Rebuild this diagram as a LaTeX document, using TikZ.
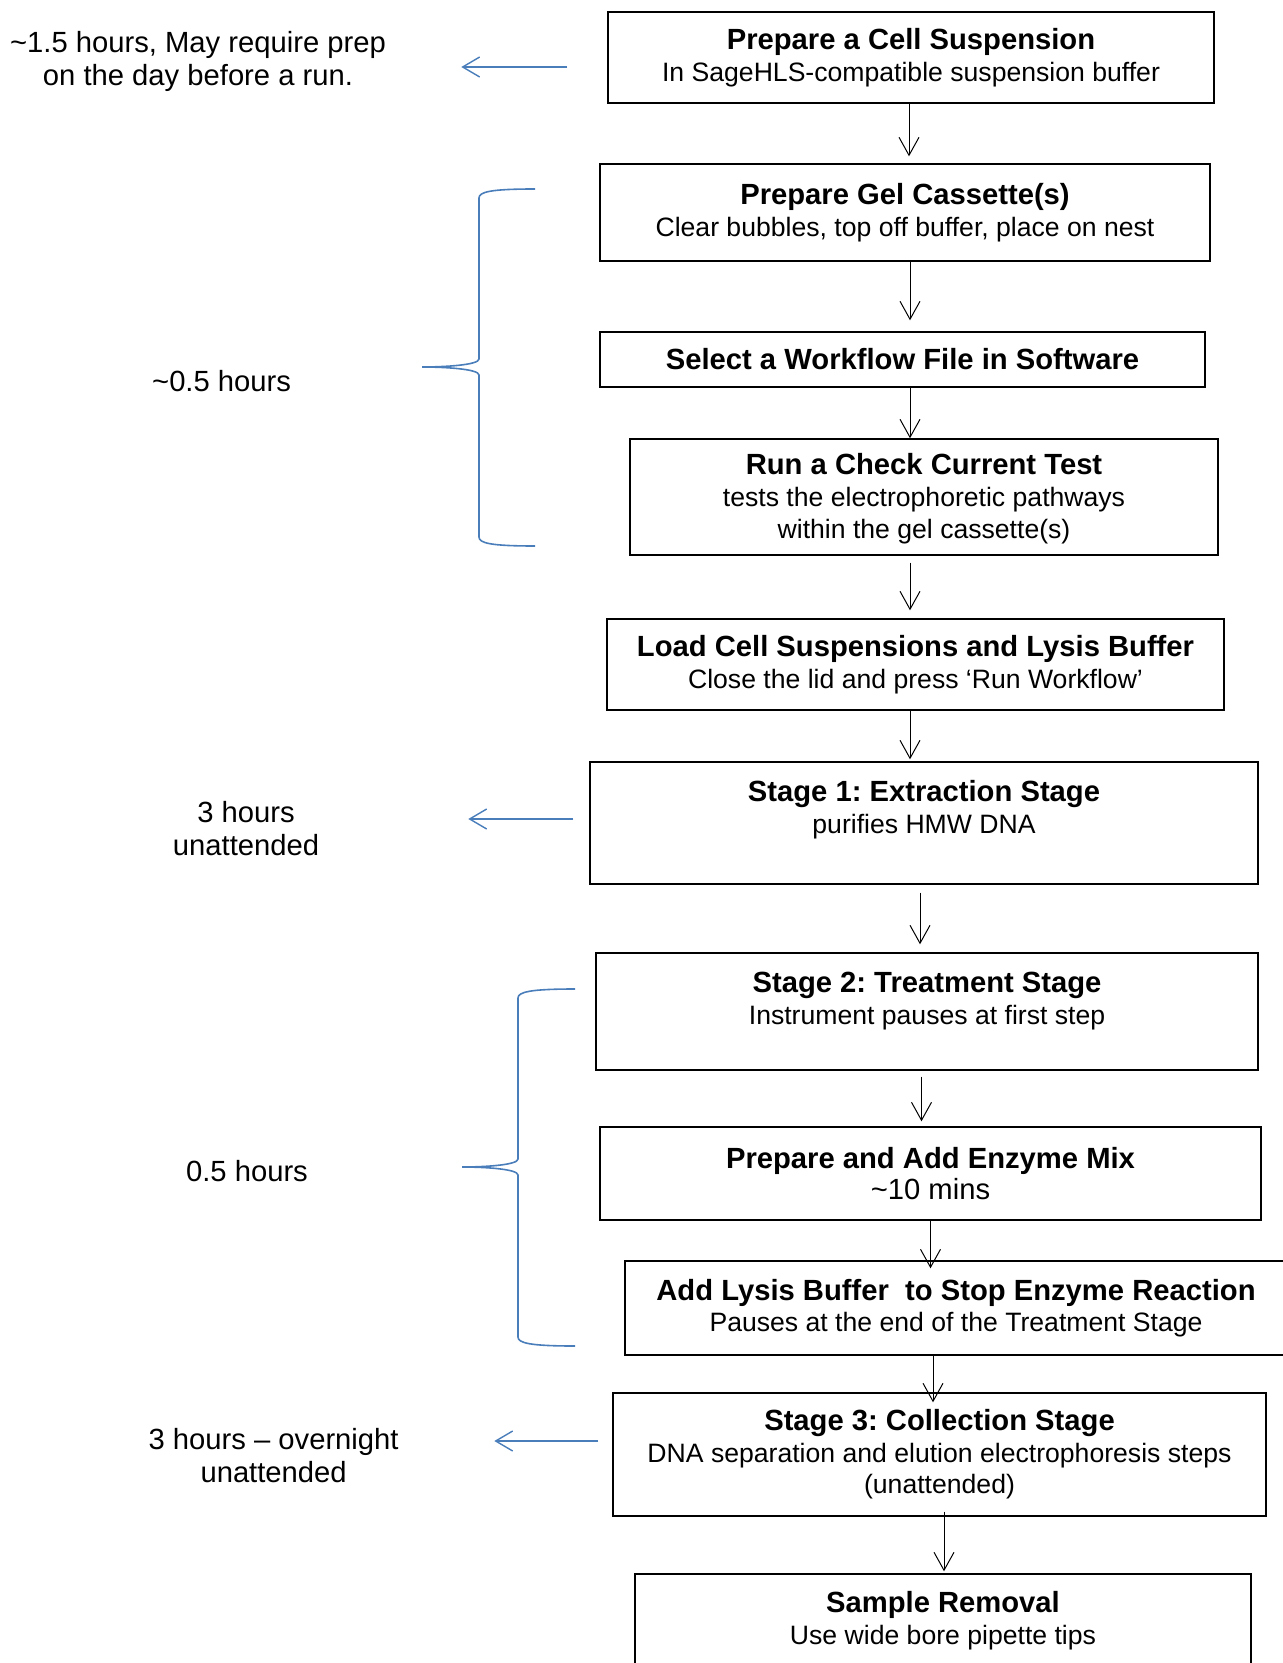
\documentclass[tikz,border=0pt]{standalone}
\usepackage{fontspec}
\setmainfont{Liberation Sans}
\usepackage{tikz}
\usetikzlibrary{arrows.meta,calc}
\frenchspacing
\definecolor{brblue}{HTML}{4A7EBB}
\newcommand{\hd}[1]{{\fontsize{14.6pt}{16pt}\selectfont\bfseries #1}}
\tikzset{
  blk/.style = {draw, line width=0.7pt, align=center, inner sep=0pt,
                font=\fontsize{13.3pt}{15.8pt}\selectfont},
  ar/.style  = {-{Straight Barb[length=9pt,width=10pt]}, line width=0.5pt},
  bar/.style = {-{Straight Barb[length=8.5pt,width=10pt]}, line width=0.7pt, draw=brblue},
  brc/.style = {draw=brblue, line width=0.8pt},
  lbl/.style = {align=center, inner sep=0pt, font=\fontsize{14.6pt}{16.5pt}\selectfont},
}
\begin{document}
\begin{tikzpicture}[x=0.5pt, y=-0.5pt]
\useasboundingbox (0,0) rectangle (1282,1663);

% protocol steps
\node[blk, minimum width=303pt, minimum height=45.5pt] (cell) at (911,57.5)
     {\hd{Prepare a Cell Suspension}\\In SageHLS-compatible suspension buffer};
\node[blk, minimum width=305pt, minimum height=48.5pt] (gel) at (905,212.5)
     {\hd{Prepare Gel Cassette(s)}\\Clear bubbles, top off buffer, place on nest};
\node[blk, minimum width=302.5pt, minimum height=27.5pt] (wflow) at (902.5,359.5)
     {\hd{Select a Workflow File in Software}};
\node[blk, minimum width=294pt, minimum height=58pt, text depth=1pt] (check) at (924,497)
     {\hd{Run a Check Current Test}\\tests the electrophoretic pathways\\within the gel cassette(s)};
\node[blk, minimum width=308.5pt, minimum height=45.5pt] (load) at (915.5,664.5)
     {\hd{Load Cell Suspensions and Lysis Buffer}\\Close the lid and press ‘Run Workflow’};
\node[blk, minimum width=334pt, minimum height=61pt] (stg1) at (924,823)
     {\hd{Stage 1: Extraction Stage}\\purifies HMW DNA\\[-4.2pt]\strut};
\node[blk, minimum width=331pt, minimum height=58.5pt] (stg2) at (927,1011.5)
     {\hd{Stage 2: Treatment Stage}\\Instrument pauses at first step\\[-7.4pt]\strut};
\node[blk, minimum width=330.5pt, minimum height=46.5pt] (enz) at (930.5,1173.5)
     {\hd{Prepare and Add Enzyme Mix}\\{\fontsize{14.6pt}{17pt}\selectfont\textasciitilde10 mins}};
\node[blk, minimum width=331pt, minimum height=47pt] (lysis) at (956,1308)
     {\hd{Add Lysis Buffer \ to Stop Enzyme Reaction}\\Pauses at the end of the Treatment Stage};
\node[blk, minimum width=326.5pt, minimum height=61.5pt] (stg3) at (939.5,1454.5)
     {\hd{Stage 3: Collection Stage}\\DNA separation and elution electrophoresis steps\\(unattended)};
\node[blk, minimum width=308pt, minimum height=61pt] (smpl) at (943,1635)
     {\hd{Sample Removal}\\Use wide bore pipette tips\\[-3.7pt]\strut};

% flow
\draw[ar, shorten >=3.5pt] ($(cell.south)+(-2,0)$) coordinate (p1) -- (p1 |- gel.north);
\draw[ar, shorten >=5.5pt] ($(gel.south)+(5,0)$) coordinate (p2) -- (p2 |- wflow.north);
\draw[ar] ($(wflow.south)+(7.5,0)$) coordinate (p3) -- (p3 |- check.north);
\draw[ar, shorten <=3.5pt, shorten >=4pt] ($(check.south)+(-14,0)$) coordinate (p4) -- (p4 |- load.north);
\draw[ar, shorten >=1pt] ($(load.south)+(-5.5,0)$) coordinate (p5) -- (p5 |- stg1.north);
\draw[ar, shorten <=4pt, shorten >=4pt] ($(stg1.south)+(-4,0)$) coordinate (p6) -- (p6 |- stg2.north);
\draw[ar, shorten <=3pt, shorten >=2.5pt] ($(stg2.south)+(-5.5,0)$) coordinate (p7) -- (p7 |- enz.north);
\draw[ar, shorten >=-4pt] (enz.south) -- (enz.south |- lysis.north);
\draw[ar, shorten >=-5pt] ($(lysis.south)+(-23,0)$) coordinate (p9) -- (p9 |- stg3.north);
\draw[ar, shorten <=-2.5pt, shorten >=1pt] ($(stg3.south)+(4.5,0)$) coordinate (p10) -- (p10 |- smpl.north);

% timings
\node[lbl] (tprep) at (198,61) {\textasciitilde1.5 hours, May require prep\\on the day before a run.};
\node[lbl] (tgel)  at (221.6,380.7) {\textasciitilde0.5 hours};
\node[lbl] (tstg1) at (246,829) {3 hours\\unattended};
\node[lbl] (tenz)  at (247,1170.7) {0.5 hours};
\node[lbl] (tstg3) at (273.6,1456) {3 hours – overnight\\unattended};

\draw[bar] ($(cell.west)+(-40,9.5)$) -- ++(-106,0);
\draw[bar] ($(stg1.west)+(-16,-4)$) -- ++(-105,0);
\draw[bar] ($(stg3.west)+(-14,-13.5)$) -- ++(-104,0);

% braces
\draw[brc] (535,189) .. controls (490,189) and (479,192) .. (479,198) -- (479,359)
  .. controls (479,365) and (445,367) .. (422,367)
  .. controls (445,367) and (479,369) .. (479,375) -- (479,537)
  .. controls (479,543) and (490,546) .. (535,546);
\draw[brc] (575,989) .. controls (530,989) and (518,992) .. (518,998) -- (518,1159)
  .. controls (518,1165) and (485,1167) .. (462,1167)
  .. controls (485,1167) and (518,1169) .. (518,1175) -- (518,1337)
  .. controls (518,1343) and (530,1346) .. (575,1346);
\end{tikzpicture}
\end{document}
